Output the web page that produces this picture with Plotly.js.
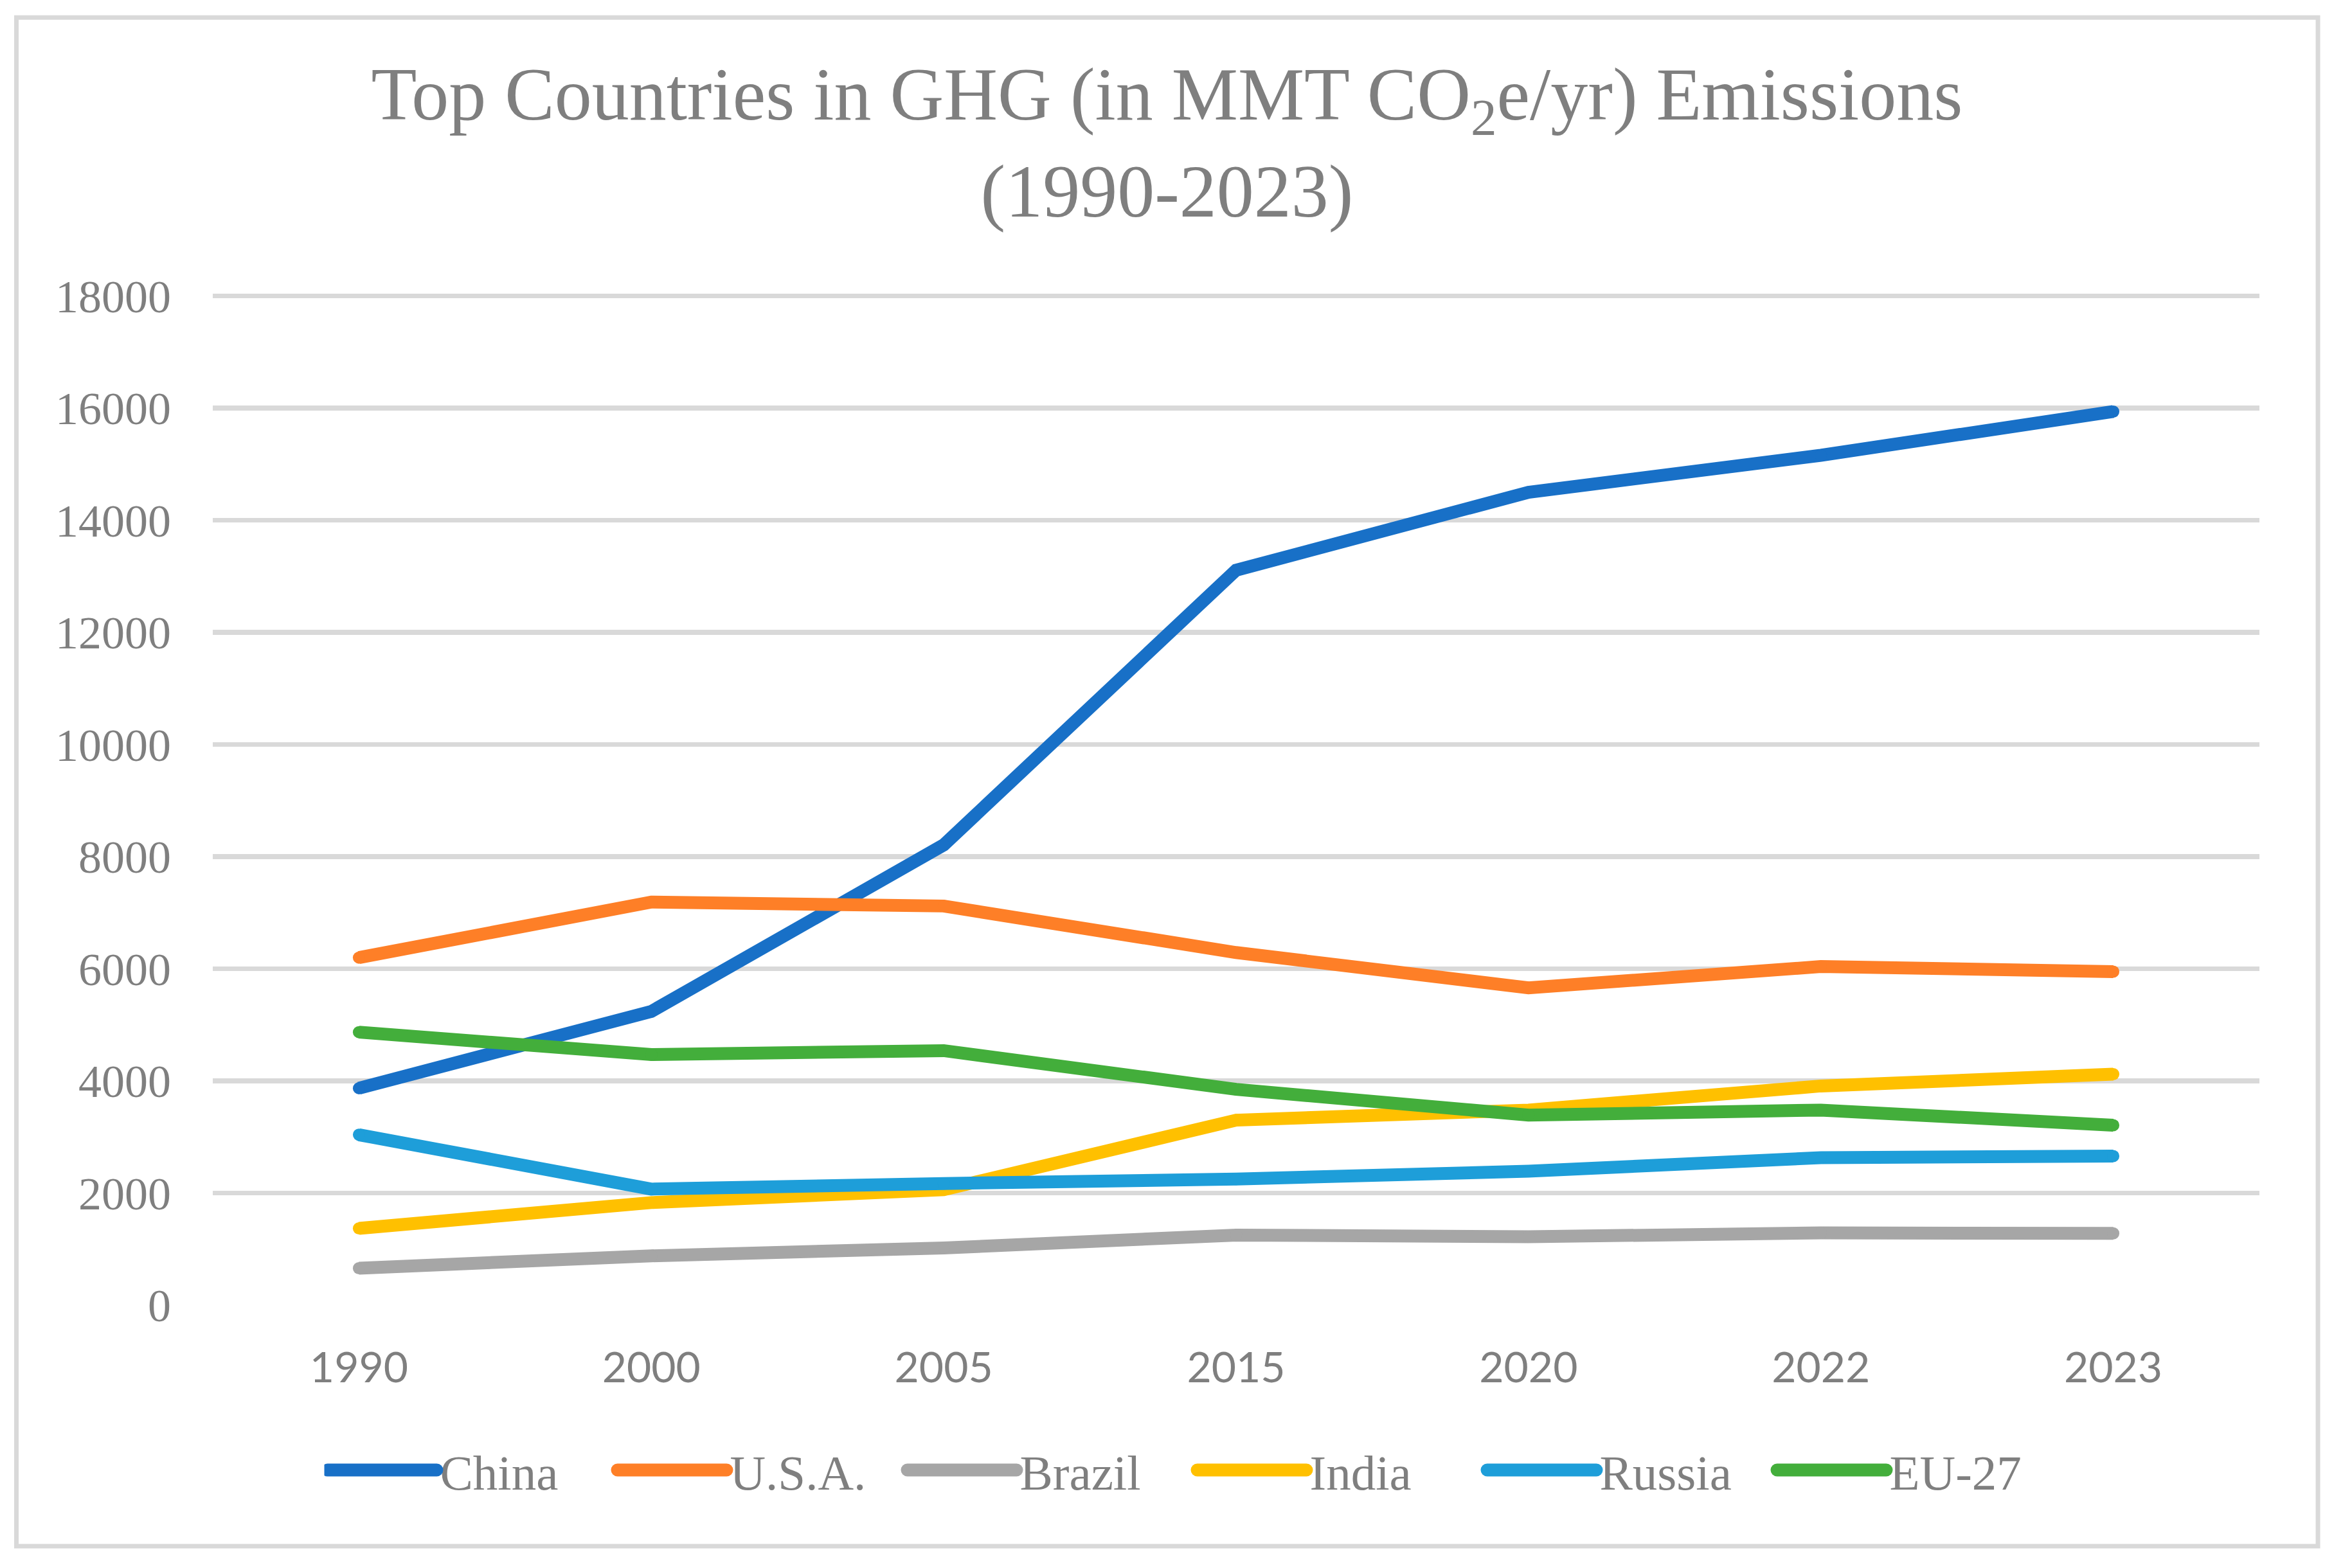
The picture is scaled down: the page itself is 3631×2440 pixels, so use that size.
<!DOCTYPE html>
<html>
<head>
<meta charset="utf-8">
<script src="https://cdn.plot.ly/plotly-3.0.1.min.js"></script>
<style>
  html, body { margin: 0; padding: 0; background: #ffffff; }
  #chart { width: 3631px; height: 2440px; }
</style>
</head>
<body>
<div id="chart"></div>
<script>
// ---- Data ----
const years = ["1990", "2000", "2005", "2015", "2020", "2022", "2023"];
const seriesNames = ["China", "U.S.A.", "Brazil", "India", "Russia", "EU-27"];
const china  = [3870, 5240, 8210, 13110, 14500, 15160, 15940];
const usa    = [6200, 7190, 7120, 6290, 5660, 6040, 5950];
const brazil = [660, 880, 1020, 1250, 1220, 1290, 1280];
const india  = [1370, 1830, 2060, 3300, 3480, 3910, 4120];
const russia = [3040, 2070, 2170, 2250, 2390, 2630, 2660];
const eu27   = [4870, 4470, 4540, 3850, 3390, 3480, 3210];
const yTicks = [0, 2000, 4000, 6000, 8000, 10000, 12000, 14000, 16000, 18000];

const seriesValues = [china, usa, brazil, india, russia, eu27];
const seriesColors = ["#1870c7", "#fe7f27", "#a6a6a6", "#ffc000", "#1e9ed9", "#43ae3b"];

const W = 3631, H = 2440;
// the y range goes slightly past 18000 so that the top gridline is drawn;
// the top margin is reduced by the same amount so 18000 stays at y=461
const yMax = 18100;
const pxPerUnit = 1570 / 18000;
const M = { l: 331, r: 116, t: 461 - (yMax - 18000) * pxPerUnit, b: 409 };
const pw = W - M.l - M.r, ph = H - M.t - M.b;
const serif = "'Liberation Serif', 'Times New Roman', serif";
const grey = "#7f7f7f";

const traces = [];
seriesNames.forEach((name, i) => {
  traces.push({
    type: "scatter",
    mode: "lines",
    name: name,
    legendgroup: name,
    x: years,
    y: seriesValues[i],
    line: { color: seriesColors[i], width: 20 },
    hoverinfo: "x+y+name"
  });
  // round joins / caps like the original
  traces.push({
    type: "scatter",
    mode: "markers",
    name: name,
    legendgroup: name,
    showlegend: false,
    x: years,
    y: seriesValues[i],
    marker: { color: seriesColors[i], size: 19, line: { width: 0 } },
    hoverinfo: "skip"
  });
});

// outer chart border (in paper coordinates relative to plot area)
const bx0 = (25.5 - M.l) / pw, bx1 = (3606 - M.l) / pw;
const by1 = (H - M.b - 27.5) / ph, by0 = (H - M.b - 2406) / ph;

const layout = {
  width: W, height: H,
  margin: M,
  paper_bgcolor: "#ffffff",
  plot_bgcolor: "#ffffff",
  font: { family: serif, color: grey },
  title: {
    text: "Top Countries in GHG (in MMT CO<sub>2</sub>e/yr) Emissions<br>(1990-2023)",
    font: { family: serif, size: 116, color: grey },
    x: 0.5, xref: "container", xanchor: "center",
    y: 1 - 186 / H, yref: "container", yanchor: "middle"
  },
  xaxis: {
    type: "category",
    range: [-0.5, 6.5],
    showgrid: false, zeroline: false, showline: false,
    ticks: "",
    ticklabelstandoff: 53,
    tickfont: { family: "Lato, 'Liberation Sans', sans-serif", size: 66, color: grey },
    fixedrange: true
  },
  yaxis: {
    range: [0, yMax],
    tickvals: yTicks,
    ticktext: yTicks.map(String),
    showgrid: true, gridcolor: "#d9d9d9", gridwidth: 7.5,
    zeroline: false, showline: false,
    ticks: "",
    ticklabelstandoff: 64,
    tickfont: { family: serif, size: 72, color: grey },
    fixedrange: true
  },
  showlegend: true,
  legend: {
    orientation: "h",
    xref: "container", x: 0.5 + 42 / W, xanchor: "center",
    yref: "container", y: 1 - 2288 / H, yanchor: "middle",
    font: { family: serif, size: 77, color: grey },
    itemwidth: 170,
    entrywidth: 266,
    entrywidthmode: "pixels",
    traceorder: "normal",
    bgcolor: "rgba(0,0,0,0)"
  },
  shapes: [{
    type: "rect", xref: "paper", yref: "paper",
    x0: bx0, x1: bx1, y0: by0, y1: by1,
    line: { color: "#d9d9d9", width: 7 },
    fillcolor: "rgba(0,0,0,0)",
    layer: "below"
  }]
};

Plotly.newPlot("chart", traces, layout, { displayModeBar: false, staticPlot: true }).then(gd => {
  // Plotly caps legend line width; restore the thick rounded swatches of the original
  gd.querySelectorAll(".legendlines path").forEach(p => {
    p.style.strokeWidth = "20px";
    p.style.strokeLinecap = "round";
  });
});
</script>
</body>
</html>
